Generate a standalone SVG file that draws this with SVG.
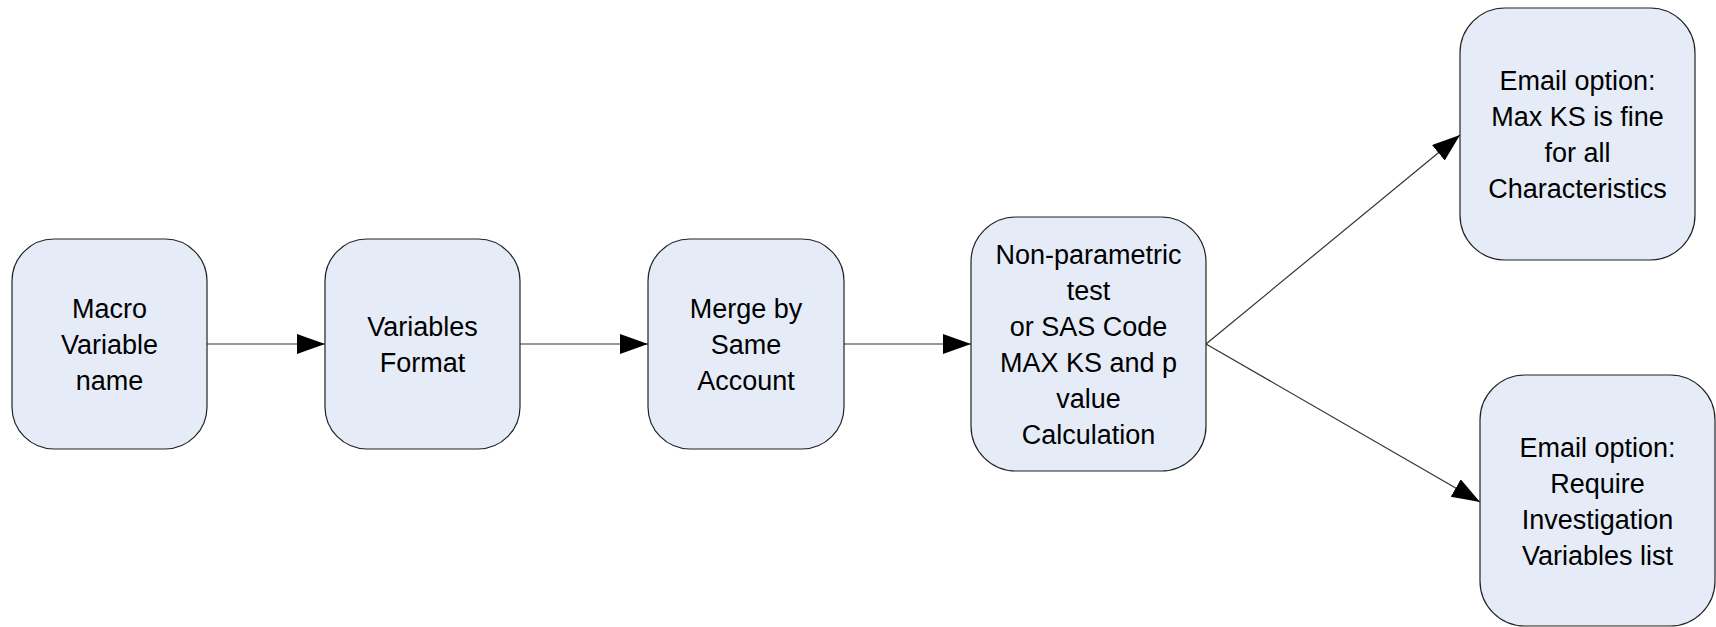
<svg xmlns="http://www.w3.org/2000/svg" width="1716" height="627" viewBox="0 0 1716 627">
<style>
.box{fill:#E6ECF7;stroke:#222;stroke-width:1.2}
.lbl{font-family:"Liberation Sans",Arial,sans-serif;font-size:27px;fill:#000;text-anchor:middle}
.conn{fill:none;stroke:#333;stroke-width:1.2}
</style>
<defs>
<marker id="arr" markerUnits="userSpaceOnUse" markerWidth="30" markerHeight="22" refX="28" refY="10" orient="auto">
<path d="M0,0 L28,10 L0,20 z" fill="#000"/>
</marker>
</defs>
<rect width="1716" height="627" fill="#fff"/>
<g id="connectors">
<line class="conn" x1="207" y1="344" x2="325" y2="344" marker-end="url(#arr)"/>
<line class="conn" x1="520" y1="344" x2="648" y2="344" marker-end="url(#arr)"/>
<line class="conn" x1="844" y1="344" x2="971" y2="344" marker-end="url(#arr)"/>
<line class="conn" x1="1206" y1="344" x2="1460" y2="135" marker-end="url(#arr)"/>
<line class="conn" x1="1206" y1="344" x2="1480" y2="502" marker-end="url(#arr)"/>
</g>
<g id="node1">
<rect class="box" x="12" y="239" width="195" height="210" rx="42" ry="42"/>
<text class="lbl" x="109.5" y="318">Macro</text>
<text class="lbl" x="109.5" y="354">Variable</text>
<text class="lbl" x="109.5" y="390">name</text>
</g>
<g id="node2">
<rect class="box" x="325" y="239" width="195" height="210" rx="42" ry="42"/>
<text class="lbl" x="422.5" y="336">Variables</text>
<text class="lbl" x="422.5" y="372">Format</text>
</g>
<g id="node3">
<rect class="box" x="648" y="239" width="196" height="210" rx="42" ry="42"/>
<text class="lbl" x="746" y="318">Merge by</text>
<text class="lbl" x="746" y="354">Same</text>
<text class="lbl" x="746" y="390">Account</text>
</g>
<g id="node4">
<rect class="box" x="971" y="217" width="235" height="254" rx="45" ry="45"/>
<text class="lbl" x="1088.5" y="264">Non-parametric</text>
<text class="lbl" x="1088.5" y="300">test</text>
<text class="lbl" x="1088.5" y="336">or SAS Code</text>
<text class="lbl" x="1088.5" y="372">MAX KS and p</text>
<text class="lbl" x="1088.5" y="408">value</text>
<text class="lbl" x="1088.5" y="444">Calculation</text>
</g>
<g id="node5">
<rect class="box" x="1460" y="8" width="235" height="252" rx="45" ry="45"/>
<text class="lbl" x="1577.5" y="90">Email option:</text>
<text class="lbl" x="1577.5" y="126">Max KS is fine</text>
<text class="lbl" x="1577.5" y="162">for all</text>
<text class="lbl" x="1577.5" y="198">Characteristics</text>
</g>
<g id="node6">
<rect class="box" x="1480" y="375" width="235" height="251" rx="45" ry="45"/>
<text class="lbl" x="1597.5" y="457">Email option:</text>
<text class="lbl" x="1597.5" y="493">Require</text>
<text class="lbl" x="1597.5" y="529">Investigation</text>
<text class="lbl" x="1597.5" y="565">Variables list</text>
</g>
</svg>
